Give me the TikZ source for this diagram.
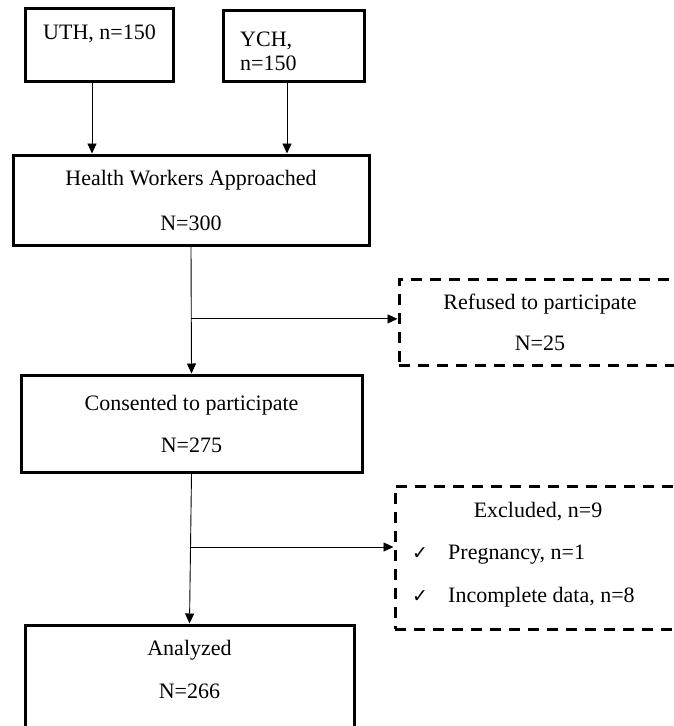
\documentclass[tikz,border=0pt]{standalone}
\usepackage{fontspec}
\setmainfont{Liberation Serif}
\newfontfamily\checkfont{DejaVu Sans}
\usetikzlibrary{arrows.meta, calc}

\begin{document}
\begin{tikzpicture}[
    x=1pt, y=-1pt,
    font=\fontsize{22}{26}\selectfont,
    box/.style={rectangle, draw=black, line width=3pt, align=center, inner sep=0pt},
    dbox/.style={rectangle, draw=black, line width=3pt, dash pattern=on 11pt off 8pt, align=center, inner sep=0pt},
    txt/.style={inner sep=0pt, align=left},
    arr/.style={-{Triangle[length=10pt, width=9pt]}, black, line width=0.9pt}
]
\useasboundingbox (0,0) rectangle (674,726);

% Sites
\node[box, minimum width=148, minimum height=73] (uth) at (99,44.5) {};
\node[txt, anchor=north west] (uth_txt) at (43,24.7) {UTH, n=150};

\node[box, minimum width=141, minimum height=71] (ych) at (293.5,45.5) {};
\node[txt, anchor=north west] (ych_txt) at (240,31.7) {YCH,\\[-2pt]n=150};

% Approached
\node[box, minimum width=356, minimum height=90] (hw) at (191,200) {
    Health Workers Approached\\[19pt]
    N=300
};

% Refused
\node[dbox, minimum width=282, minimum height=86] (refused) at (540,322) {
    Refused to participate\\[15pt]
    N=25
};

% Consented
\node[box, minimum width=341, minimum height=97] (consent) at (191.5,423.5) {
    Consented to participate\\[16pt]
    N=275
};

% Excluded
\node[dbox, minimum width=286, minimum height=143] (excluded) at (538,557.5) {};
\node[txt] (excl_head) at (538,512) {Excluded, n=9};
\node[txt, anchor=west] (excl_preg) at (412,555)
    {\makebox[36pt][l]{\checkfont\fontsize{19}{22}\selectfont ✓}Pregnancy, n=1};
\node[txt, anchor=west] (excl_data) at (412,597)
    {\makebox[36pt][l]{\checkfont\fontsize{19}{22}\selectfont ✓}Incomplete data, n=8};

% Analyzed
\node[box, minimum width=329, minimum height=120] (analyzed) at (189.5,685) {};
\node[txt, align=center] (analyzed_txt) at (189.5,669.5) {Analyzed\\[17pt]N=266};

% Arrows
\coordinate (split1) at ($(hw.south)!0.57!(consent.north)$);
\coordinate (split2) at ($(consent.south)!0.49!(analyzed.north)$);
\begin{scope}[every path/.style={arr}]
    \draw ([xshift=-7]uth.south) -- ([xshift=-7]uth.south |- hw.north);
    \draw ([xshift=-6.5]ych.south) -- ([xshift=-6.5]ych.south |- hw.north);
    \draw (hw.south) -- (consent.north);
    \draw (split1) -- (split1 -| refused.west);
    \draw (consent.south) -- (analyzed.north);
    \draw (split2) -- (split2 -| excluded.west);
\end{scope}

\end{tikzpicture}
\end{document}
